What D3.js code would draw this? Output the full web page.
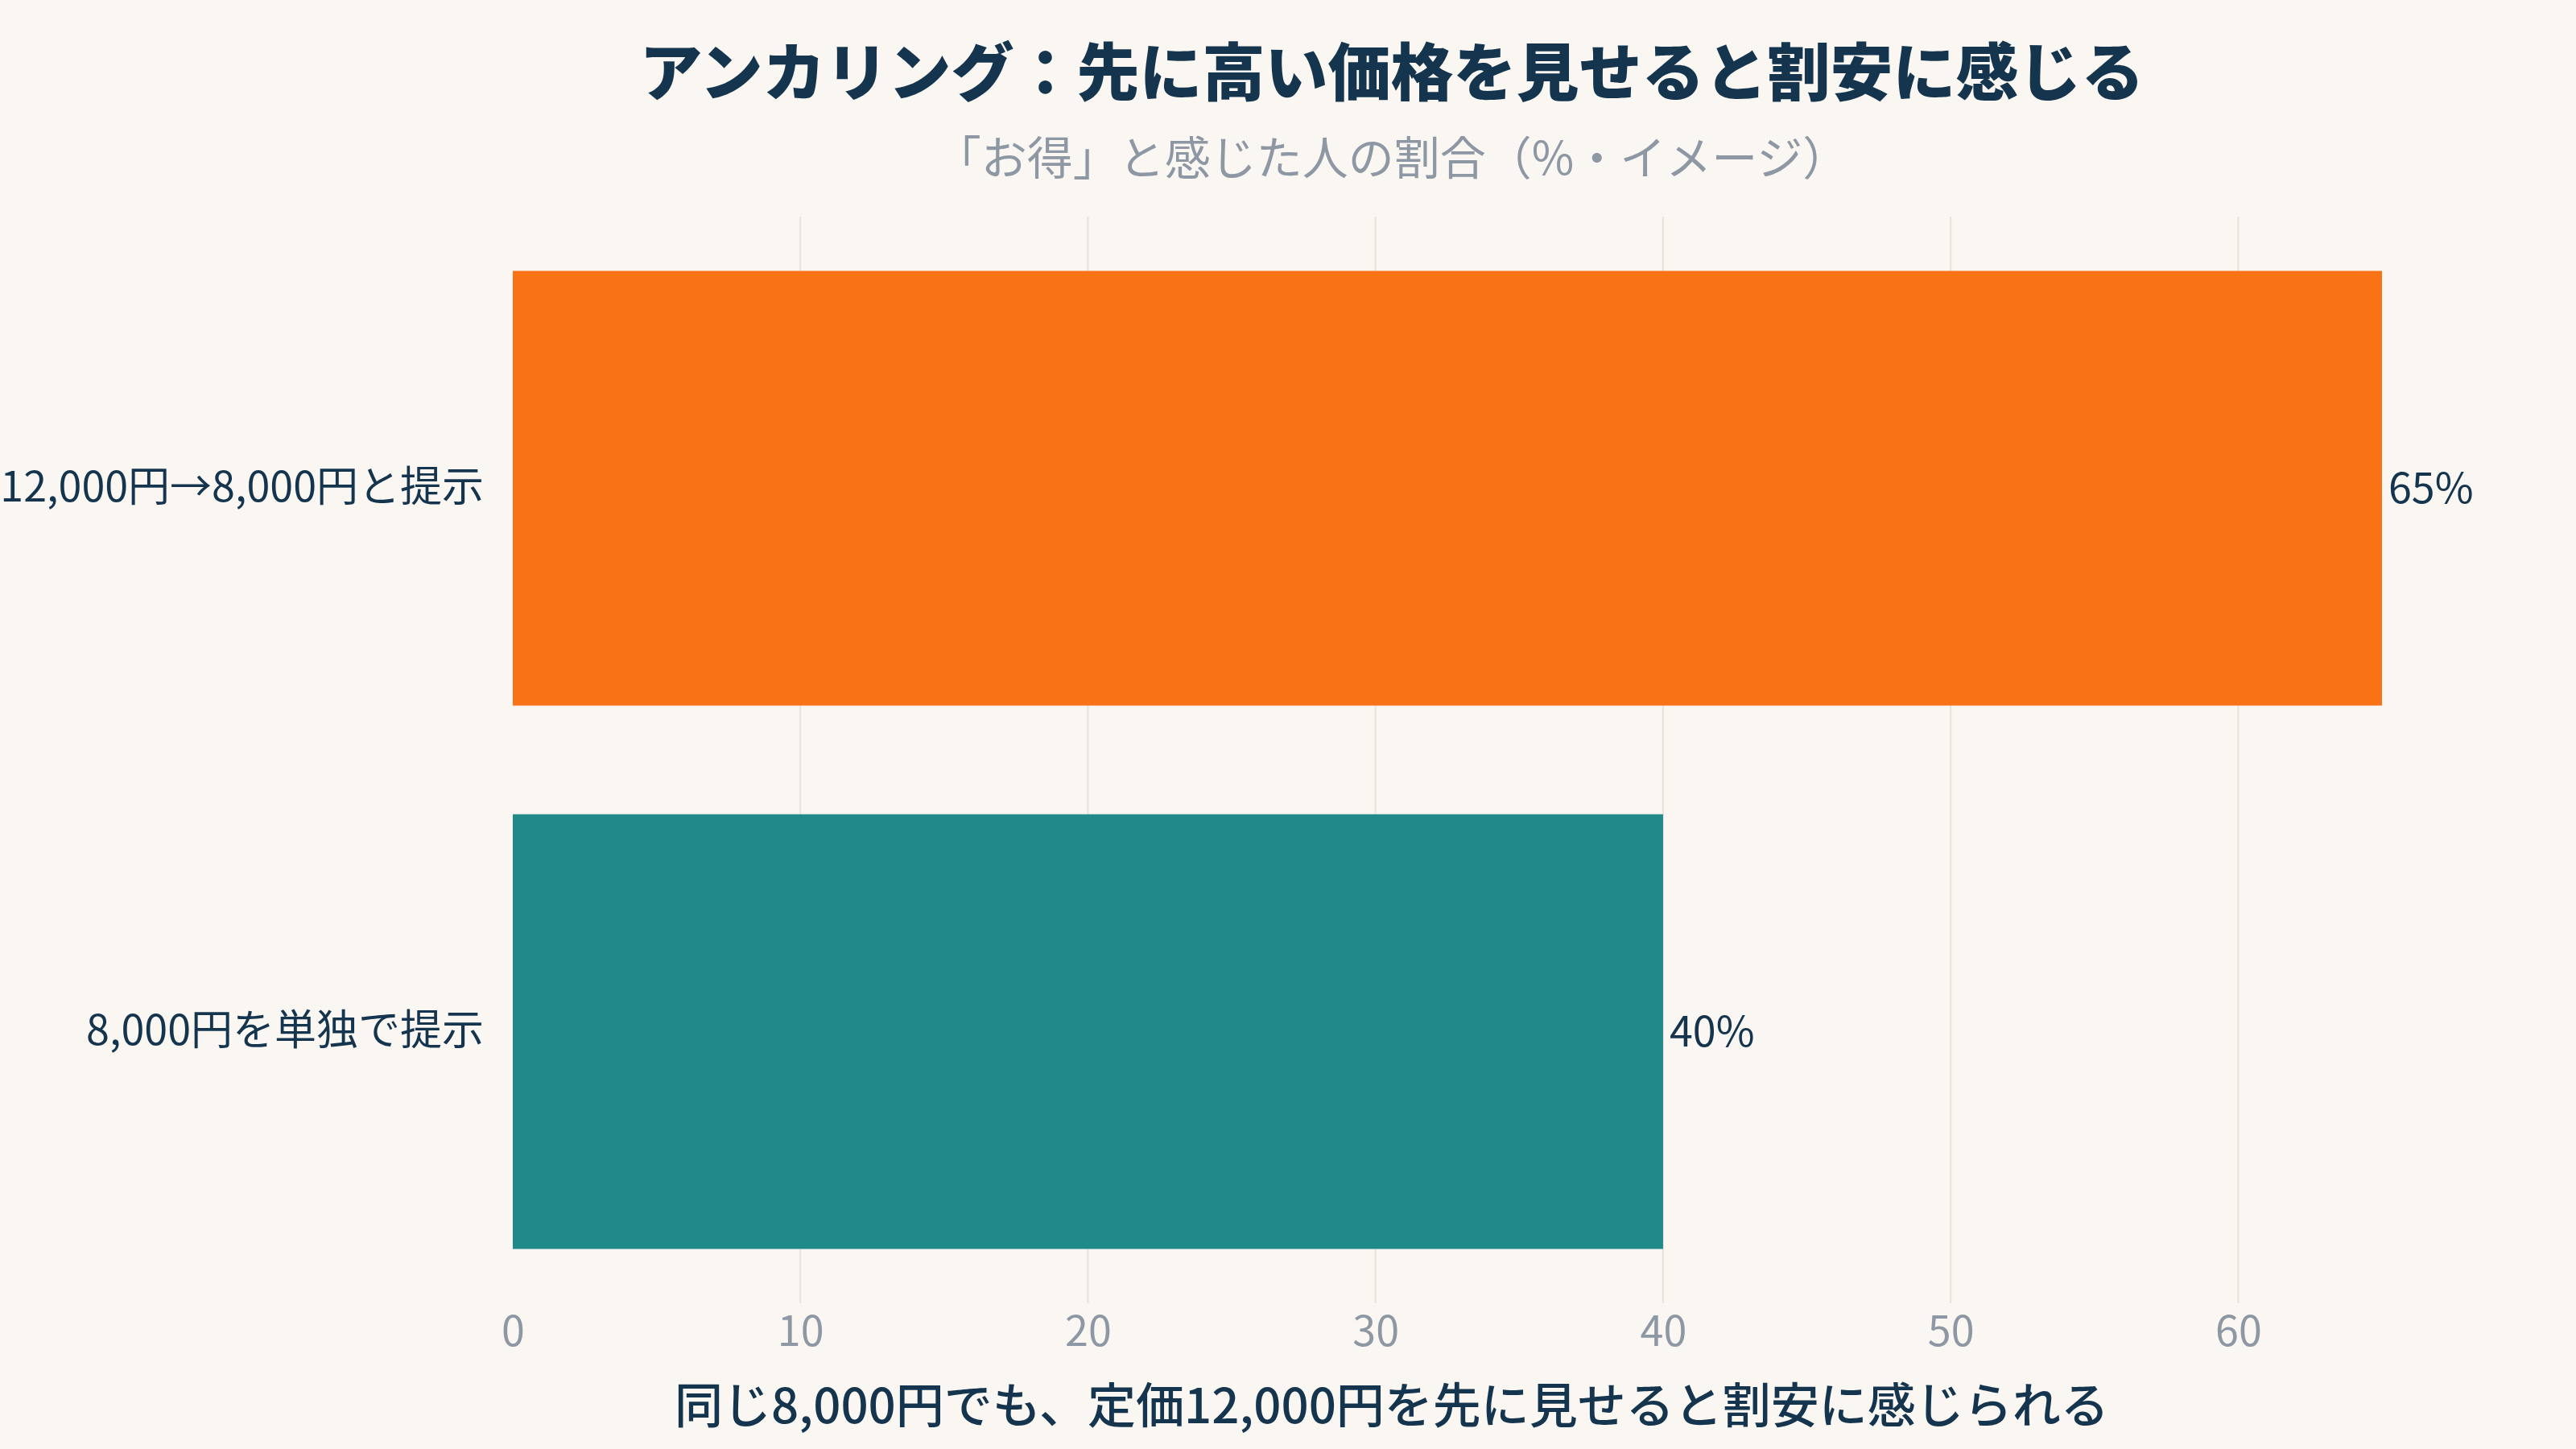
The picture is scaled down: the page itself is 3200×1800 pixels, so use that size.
<!DOCTYPE html>
<html lang="ja">
<head>
    <meta charset="UTF-8">
    <title>アンカリング</title>
    <script src="https://cdnjs.cloudflare.com/ajax/libs/d3/7.8.4/d3.min.js"></script>
    <style>
        html, body {
            margin: 0;
            padding: 0;
            background: #faf7f2;
        }
        svg {
            display: block;
            font-family: "Noto Sans CJK JP", "Noto Sans", sans-serif;
        }
    </style>
</head>
<body>
    <svg width="3200" height="1800"></svg>

    <script>
        // data
        const categories = ["12,000円→8,000円と提示", "8,000円を単独で提示"];
        const values = [65, 40];
        const barColors = ["#f97316", "#1f8a89"];
        const xTicks = [0, 10, 20, 30, 40, 50, 60];

        const title = "アンカリング：先に高い価格を見せると割安に感じる";
        const subtitle = "「お得」と感じた人の割合（%・イメージ）";
        const xTitle = "同じ8,000円でも、定価12,000円を先に見せると割安に感じられる";

        const navy = "#15354f";
        const grey = "#8e97a4";

        const margin = { left: 637, top: 269 };
        const plotW = 2184;   // to 2821, title centered on this
        const plotH = 1350;

        const svg = d3.select("svg");
        svg.append("rect").attr("width", 3200).attr("height", 1800).attr("fill", "#faf7f2");

        const x = d3.scaleLinear().domain([0, 65]).range([0, 2322]);
        const y = d3.scaleBand().domain(categories).range([0, plotH])
            .paddingInner(0.2).paddingOuter(0.1);

        const g = svg.append("g").attr("transform", `translate(${margin.left},${margin.top})`);

        // grid
        g.selectAll("line.grid")
            .data(xTicks.filter(d => d > 0))
            .enter().append("line")
            .attr("class", "grid")
            .attr("x1", d => x(d)).attr("x2", d => x(d))
            .attr("y1", 0).attr("y2", plotH)
            .style("stroke", "#e6e2dc")
            .style("stroke-width", 2);

        // bars
        g.selectAll("rect.bar")
            .data(values)
            .enter().append("rect")
            .attr("class", "bar")
            .attr("x", 0)
            .attr("y", (d, i) => y(categories[i]))
            .attr("width", d => x(d))
            .attr("height", y.bandwidth())
            .style("fill", (d, i) => barColors[i]);

        // value labels
        g.selectAll("text.val")
            .data(values)
            .enter().append("text")
            .attr("class", "val")
            .attr("x", d => x(d) + 8)
            .attr("y", (d, i) => y(categories[i]) + y.bandwidth() / 2)
            .attr("dy", "0.35em")
            .style("font-size", "52px")
            .style("fill", navy)
            .text(d => d + "%");

        // y axis labels
        const yAxis = g.append("g")
            .call(d3.axisLeft(y).tickSize(0).tickPadding(36));
        yAxis.select(".domain").remove();
        yAxis.selectAll("text")
            .style("font-size", "52px")
            .style("font-family", "\"Noto Sans CJK JP\", sans-serif")
            .style("fill", navy);

        // x axis
        const xAxis = g.append("g")
            .attr("transform", `translate(0,${plotH})`)
            .call(d3.axisBottom(x).tickValues(xTicks).tickSize(0).tickPadding(16));
        xAxis.select(".domain").remove();
        xAxis.selectAll("text")
            .style("font-size", "52px")
            .style("font-family", "\"Noto Sans CJK JP\", sans-serif")
            .style("fill", grey);

        const cx = margin.left + plotW / 2;

        svg.append("text")
            .attr("x", cx).attr("y", 92)
            .attr("dy", "0.35em")
            .attr("text-anchor", "middle")
            .style("font-size", "78px")
            .style("font-weight", 900)
            .style("fill", navy)
            .text(title);

        svg.append("text")
            .attr("x", cx).attr("y", 197)
            .attr("dy", "0.35em")
            .attr("text-anchor", "middle")
            .style("font-size", "57px")
            .style("fill", grey)
            .text(subtitle);

        svg.append("text")
            .attr("x", cx).attr("y", 1747)
            .attr("dy", "0.35em")
            .attr("text-anchor", "middle")
            .style("font-size", "60px")
            .style("font-weight", 500)
            .style("fill", navy)
            .text(xTitle);
    </script>
</body>
</html>
